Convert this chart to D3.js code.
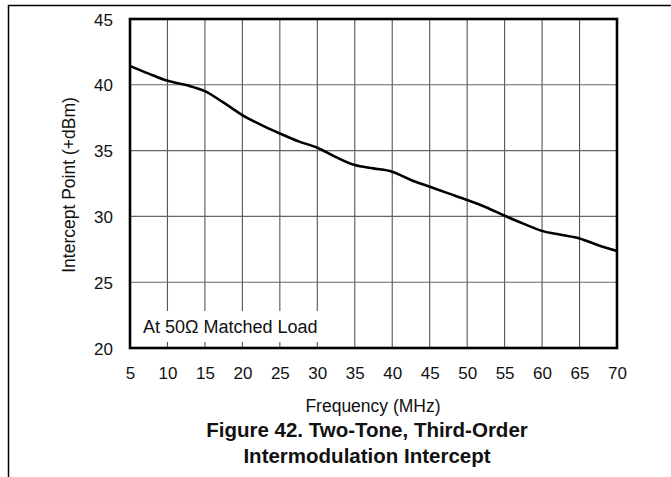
<!DOCTYPE html>
<html>
<head>
<meta charset="utf-8">
<script src="https://cdn.jsdelivr.net/npm/d3@7"></script>
<style>
body { margin:0; background:#fff; }
svg text { font-family: "Liberation Sans", Arial, Helvetica, sans-serif; fill:#111; }
</style>
</head>
<body>
<div id="chart-area"></div>
<script>
const freqs = [5,7.5,10,12.5,15,17.5,20,22.5,25,27.5,30,32.5,35,37.5,40,42.5,45,47.5,50,52.5,55,57.5,60,62.5,65,67.5,70]
const intercept = [41.43,40.85,40.3,39.98,39.52,38.64,37.7,36.95,36.3,35.7,35.22,34.5,33.9,33.65,33.4,32.77,32.26,31.75,31.25,30.7,30.05,29.45,28.9,28.6,28.33,27.8,27.37]
const xTicks = [5,10,15,20,25,30,35,40,45,50,55,60,65,70]
const yTicks = [20,25,30,35,40,45]

const MARGIN = {LEFT:130, TOP:19}
const WIDTH = 487
const HEIGHT = 329

const svg = d3.select('#chart-area')
.append('svg')
.attr('width',671)
.attr('height',477)

// outer frame (top + left only)
svg.append('path')
.attr('d','M8.5,477 L8.5,5.5 L671,5.5')
.attr('fill','none')
.attr('stroke','#000')
.attr('stroke-width',1.5)

const g = svg.append('g')
.attr('transform',`translate(${MARGIN.LEFT},${MARGIN.TOP})`)

const x = d3.scaleLinear().domain([5,70]).range([0,WIDTH])
const y = d3.scaleLinear().domain([20,45]).range([HEIGHT,0])

// grid
g.selectAll('.vgrid').data(xTicks.slice(1,-1)).enter().append('line')
.attr('class','vgrid')
.attr('x1',d=>x(d)).attr('x2',d=>x(d))
.attr('y1',0).attr('y2',HEIGHT)
.attr('stroke','#555').attr('stroke-width',1.1)

g.selectAll('.hgrid').data(yTicks.slice(1,-1)).enter().append('line')
.attr('class','hgrid')
.attr('x1',0).attr('x2',WIDTH)
.attr('y1',d=>y(d)).attr('y2',d=>y(d))
.attr('stroke','#666').attr('stroke-width',1.1)

// annotation box
g.append('rect')
.attr('x',1).attr('y',292)
.attr('width',199).attr('height',31)
.attr('fill','#fff')

g.append('text')
.attr('x',13).attr('y',314)
.style('font-size','18px')
.text('At 50\u03A9 Matched Load')

// curve
const line = d3.line()
.x((d,i)=>x(freqs[i]))
.y(d=>y(d))
.curve(d3.curveMonotoneX)

g.append('path')
.datum(intercept)
.attr('d',line)
.attr('fill','none')
.attr('stroke','#000')
.attr('stroke-width',2.6)

// plot frame
g.append('rect')
.attr('width',WIDTH).attr('height',HEIGHT)
.attr('fill','none')
.attr('stroke','#000')
.attr('stroke-width',2.6)

// axes
const xAxisCall = d3.axisBottom(x).tickValues(xTicks).tickSize(0).tickFormat(d3.format('d'))
const xAxis = g.append('g').attr('transform',`translate(0,${HEIGHT})`).call(xAxisCall)
xAxis.select('.domain').remove()
xAxis.selectAll('text').attr('y',31).attr('dy',0).style('font-size','17px').attr('fill','#111')

const yAxisCall = d3.axisLeft(y).tickValues(yTicks).tickSize(0).tickFormat(d3.format('d'))
const yAxis = g.append('g').call(yAxisCall)
yAxis.select('.domain').remove()
yAxis.selectAll('text').attr('x',-17).attr('dy',6).style('font-size','17px').attr('fill','#111')

// labels
svg.append('text')
.attr('x',373).attr('y',412)
.attr('text-anchor','middle')
.style('font-size','17.5px')
.text('Frequency (MHz)')

svg.append('text')
.attr('transform','translate(75,185) rotate(-90)')
.attr('text-anchor','middle')
.style('font-size','17.5px')
.text('Intercept Point (+dBm)')

svg.append('text')
.attr('x',367).attr('y',437)
.attr('text-anchor','middle')
.style('font-size','20.5px').style('font-weight','bold')
.text('Figure 42. Two-Tone, Third-Order')

svg.append('text')
.attr('x',367).attr('y',463)
.attr('text-anchor','middle')
.style('font-size','20.5px').style('font-weight','bold')
.text('Intermodulation Intercept')
</script>
</body>
</html>
